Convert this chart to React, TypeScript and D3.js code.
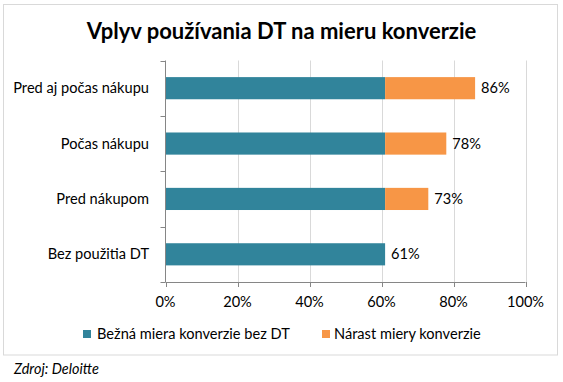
import React from "react";
import * as d3 from "d3";

const categories = ["Pred aj počas nákupu", "Počas nákupu", "Pred nákupom", "Bez použitia DT"];
const baseValues = [61, 61, 61, 61];
const increaseValues = [25, 17, 12, 0];
const totalLabels = ["86%", "78%", "73%", "61%"];
const xTicks = [0, 20, 40, 60, 80, 100];
const seriesNames = ["Bežná miera konverzie bez DT", "Nárast miery konverzie"];
const title = "Vplyv používania DT na mieru konverzie";
const source = "Zdroj: Deloitte";

const COLORS = ["#31849B", "#F79646"];
const FONT = "Lato, 'Open Sans', sans-serif";
const FS = 14.6;

export default function App() {
  const W = 563, H = 382;
  const left = 165.5, right = 525.5, top = 60.5, bottom = 282;
  const x = d3.scaleLinear().domain([0, 100]).range([left, right]);
  const y = d3.scaleBand<string>().domain(categories).range([top, bottom]).paddingInner(0.6).paddingOuter(0.3);
  const bandStep = (bottom - top) / categories.length;

  return (
    <svg width={W} height={H} style={{ position: "absolute", left: 0, top: 0, fontFamily: FONT }}>
      <rect x={0} y={0} width={W} height={H} fill="#fff" />
      <rect x={3.5} y={4.5} width={554} height={350.5} fill="#fff" stroke="#d9d9d9" strokeWidth={1} />
      <text x={281.5} y={38.5} textAnchor="middle" fontSize={22} fontWeight={700} fill="#000">{title}</text>
      {xTicks.slice(1).map((t) => (
        <line key={"g" + t} x1={Math.round(x(t)) + 0.5} x2={Math.round(x(t)) + 0.5} y1={top} y2={bottom} stroke="#d9d9d9" />
      ))}
      {categories.map((c, i) => {
        const by = y(c)!;
        const bh = y.bandwidth();
        return (
          <g key={c}>
            <rect x={x(0)} y={by} width={x(baseValues[i]) - x(0)} height={bh} fill={COLORS[0]} />
            {increaseValues[i] > 0 && (
              <rect x={x(baseValues[i])} y={by} width={x(baseValues[i] + increaseValues[i]) - x(baseValues[i])} height={bh} fill={COLORS[1]} />
            )}
            <text x={x(baseValues[i] + increaseValues[i]) + 6} y={by + bh / 2} dy="0.35em" fontSize={FS} fill="#000">{totalLabels[i]}</text>
            <text x={149} y={by + bh / 2} dy="0.35em" textAnchor="end" fontSize={FS} fill="#000">{c}</text>
          </g>
        );
      })}
      {/* y axis */}
      <line x1={left} x2={left} y1={top} y2={bottom} stroke="#868686" />
      {d3.range(categories.length + 1).map((k) => (
        <line key={"yt" + k} x1={left - 5} x2={left} y1={Math.round(top + k * bandStep) + 0.5} y2={Math.round(top + k * bandStep) + 0.5} stroke="#868686" />
      ))}
      {/* x axis */}
      <line x1={left} x2={right} y1={bottom + 0.5} y2={bottom + 0.5} stroke="#868686" />
      {xTicks.map((t) => (
        <g key={"xt" + t}>
          <line x1={Math.round(x(t)) + 0.5} x2={Math.round(x(t)) + 0.5} y1={bottom} y2={bottom + 5} stroke="#868686" />
          <text x={x(t)} y={307} textAnchor="middle" fontSize={FS} fill="#000">{t + "%"}</text>
        </g>
      ))}
      {/* legend */}
      <rect x={83} y={330} width={8} height={8} fill={COLORS[0]} />
      <text x={97} y={338.5} fontSize={FS} fill="#000">{seriesNames[0]}</text>
      <rect x={322} y={330} width={8} height={8} fill={COLORS[1]} />
      <text x={334} y={338.5} fontSize={FS} fill="#000">{seriesNames[1]}</text>
      <text x={14} y={374} fontSize={14.4} fontStyle="italic" fill="#000">{source}</text>
    </svg>
  );
}
